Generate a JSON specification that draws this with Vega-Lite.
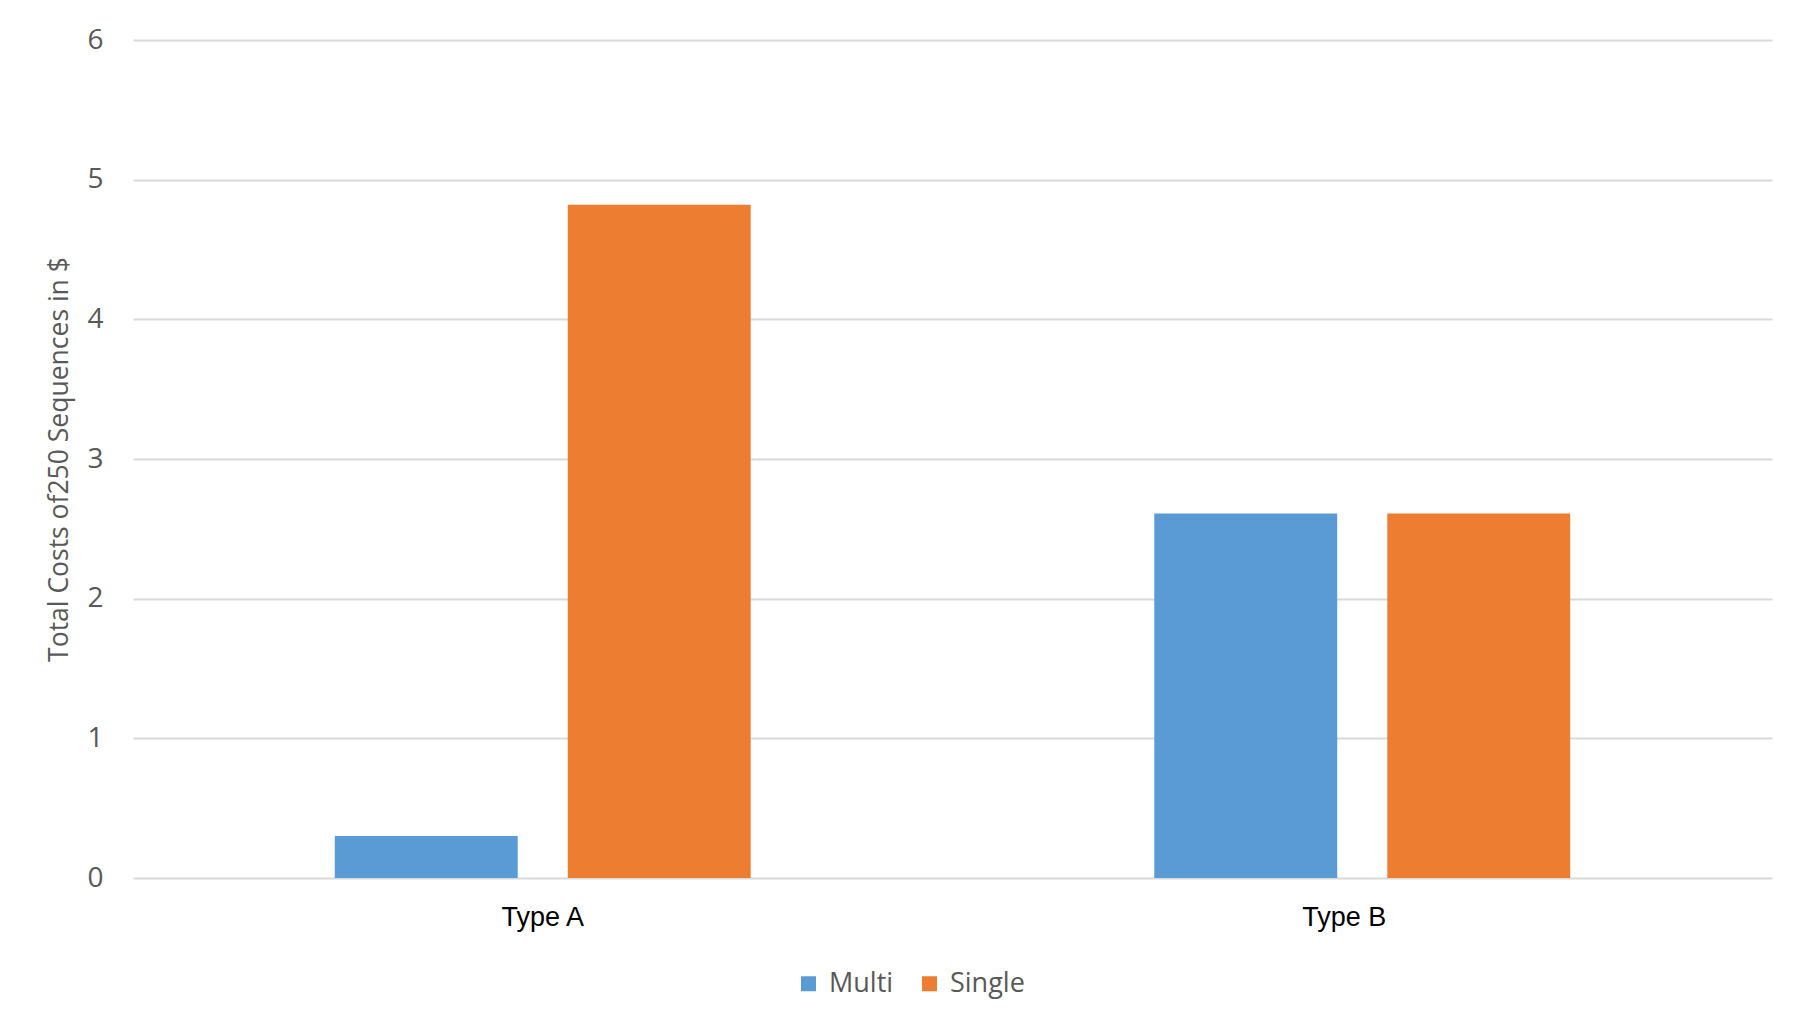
{
  "$schema": "https://vega.github.io/schema/vega-lite/v6.json",
  "autosize": "none",
  "width": 1639,
  "height": 838,
  "padding": {"left": 133, "top": 40, "right": 32, "bottom": 141},
  "background": "white",
  "data": {
    "values": [
      {"type": "Type A", "series": "Multi", "cost": 0.30},
      {"type": "Type A", "series": "Single", "cost": 4.82},
      {"type": "Type B", "series": "Multi", "cost": 2.61},
      {"type": "Type B", "series": "Single", "cost": 2.61}
    ]
  },
  "mark": {"type": "bar"},
  "encoding": {
    "x": {
      "field": "type",
      "type": "nominal",
      "scale": {"paddingInner": 0, "paddingOuter": 0},
      "axis": {
        "title": null,
        "labelAngle": 0,
        "ticks": false,
        "domain": false,
        "labelFont": "Liberation Sans",
        "labelFontSize": 27,
        "labelColor": "#000000",
        "labelPadding": 26,
        "labelOffset": {"condition": {"test": "datum.value === 'Type B'", "value": -18}, "value": 0}
      }
    },
    "xOffset": {
      "field": "series",
      "type": "nominal",
      "scale": {"paddingInner": 0.215, "paddingOuter": 0.866}
    },
    "y": {
      "field": "cost",
      "type": "quantitative",
      "scale": {"domain": [0, 6], "nice": false},
      "axis": {
        "title": "Total Costs of250 Sequences in $",
        "titleFont": "Open Sans",
        "titleFontSize": 26.5,
        "titleFontWeight": "normal",
        "titleColor": "#595959",
        "titlePadding": 13,
        "values": [0, 1, 2, 3, 4, 5, 6],
        "format": "d",
        "labelFont": "Open Sans",
        "labelFontSize": 28,
        "labelColor": "#595959",
        "labelPadding": 30,
        "ticks": false,
        "domain": false,
        "grid": true,
        "gridColor": "#d9d9d9",
        "gridWidth": 2
      }
    },
    "color": {
      "field": "series",
      "type": "nominal",
      "scale": {"domain": ["Multi", "Single"], "range": ["#5B9BD5", "#ED7D31"]},
      "legend": {
        "title": null,
        "orient": "none",
        "legendX": 662,
        "legendY": 930,
        "direction": "horizontal",
        "symbolType": "square",
        "symbolSize": 225,
        "symbolStrokeWidth": 0,
        "labelFont": "Open Sans",
        "labelFontSize": 27,
        "labelColor": "#595959",
        "labelOffset": 7,
        "columnPadding": 22
      }
    }
  },
  "config": {
    "view": {"stroke": null}
  }
}
